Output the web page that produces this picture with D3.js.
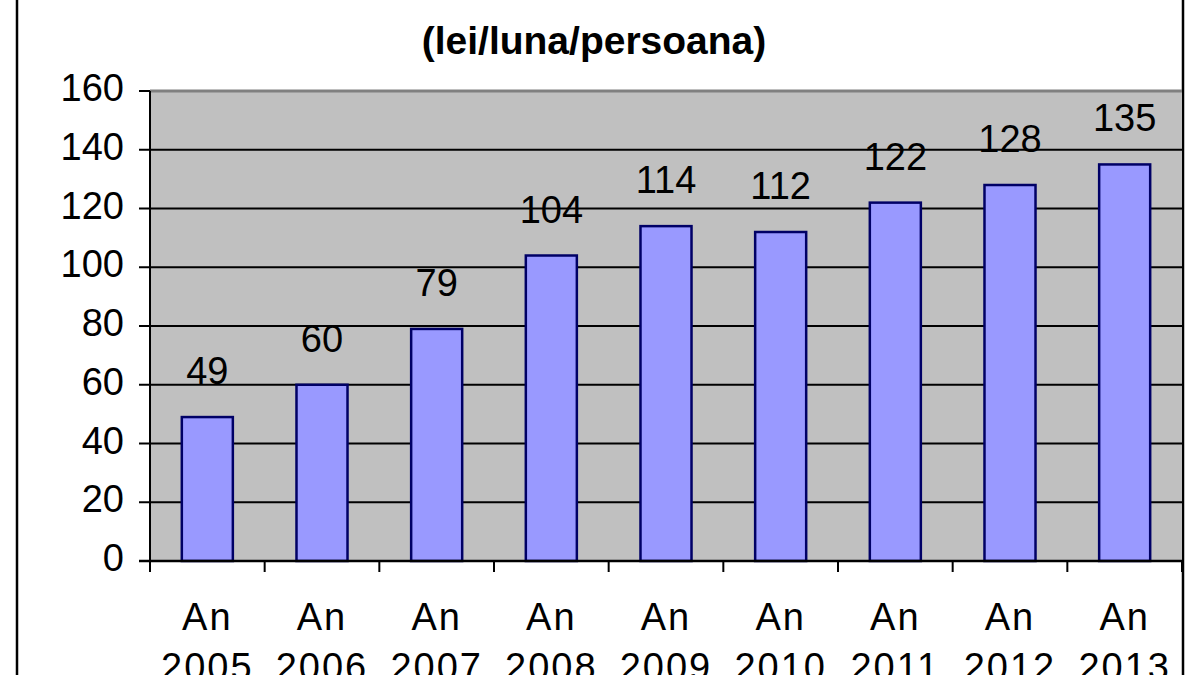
<!DOCTYPE html>
<html>
<head>
<meta charset="utf-8">
<script src="https://cdn.jsdelivr.net/npm/d3@7"></script>
<style>
  body { margin: 0; background: #fff; }
  svg { display: block; font-family: "Liberation Sans", Arial, sans-serif; }
</style>
</head>
<body>
<svg id="chart" width="1200" height="675"></svg>
<script>
// date
var ani = ["2005", "2006", "2007", "2008", "2009", "2010", "2011", "2012", "2013"];
var valori = [49, 60, 79, 104, 114, 112, 122, 128, 135];
var yTicks = [0, 20, 40, 60, 80, 100, 120, 140, 160];
var titlu = "(lei/luna/persoana)";

var W = 1200, H = 675;
var plot = { left: 150, right: 1182, top: 91, bottom: 561 };

var svg = d3.select("#chart");

// chenarul exterior
svg.append("line").attr("x1", 17).attr("x2", 17).attr("y1", 0).attr("y2", H)
  .attr("stroke", "#000").attr("stroke-width", 2.5);
svg.append("line").attr("x1", 1183).attr("x2", 1183).attr("y1", 0).attr("y2", H)
  .attr("stroke", "#000").attr("stroke-width", 2.5);

// titlu
svg.append("text")
  .attr("x", 594).attr("y", 54)
  .attr("text-anchor", "middle")
  .attr("font-weight", "bold")
  .attr("font-size", 39)
  .text(titlu);

var x = d3.scaleBand()
  .domain(ani)
  .range([plot.left, plot.right])
  .paddingInner(0.555)
  .paddingOuter(0.2775);

var y = d3.scaleLinear()
  .domain([0, 160])
  .range([plot.bottom, plot.top]);

// fundal gri
svg.append("rect")
  .attr("x", plot.left).attr("y", plot.top)
  .attr("width", plot.right - plot.left).attr("height", plot.bottom - plot.top)
  .attr("fill", "#c0c0c0");

// linii de grila
svg.append("g")
  .selectAll("line")
  .data(yTicks.filter(d => d > 0 && d < 160))
  .join("line")
  .attr("x1", plot.left).attr("x2", plot.right)
  .attr("y1", d => y(d)).attr("y2", d => y(d))
  .attr("stroke", "#000").attr("stroke-width", 2);

// marginea de sus a zonei
svg.append("line")
  .attr("x1", plot.left).attr("x2", plot.right)
  .attr("y1", plot.top).attr("y2", plot.top)
  .attr("stroke", "#808080").attr("stroke-width", 3);

// bare
svg.append("g")
  .selectAll("rect")
  .data(valori)
  .join("rect")
  .attr("x", (d, i) => x(ani[i]))
  .attr("y", d => y(d))
  .attr("width", x.bandwidth())
  .attr("height", d => y(0) - y(d))
  .attr("fill", "#9999ff")
  .attr("stroke", "#000066")
  .attr("stroke-width", 2.5);

// etichete valori
svg.append("g")
  .attr("font-size", 38)
  .attr("text-anchor", "middle")
  .selectAll("text")
  .data(valori)
  .join("text")
  .attr("x", (d, i) => x(ani[i]) + x.bandwidth() / 2)
  .attr("y", d => y(d) - 33)
  .text(d => d);

// axa Y
var yAxis = svg.append("g");
yAxis.append("line")
  .attr("x1", plot.left).attr("x2", plot.left)
  .attr("y1", plot.top).attr("y2", plot.bottom)
  .attr("stroke", "#000").attr("stroke-width", 2);
yAxis.selectAll("line.tick")
  .data(yTicks)
  .join("line")
  .attr("class", "tick")
  .attr("x1", plot.left - 11).attr("x2", plot.left)
  .attr("y1", d => y(d)).attr("y2", d => y(d))
  .attr("stroke", "#000").attr("stroke-width", 2);
yAxis.selectAll("text")
  .data(yTicks)
  .join("text")
  .attr("x", 124)
  .attr("y", d => y(d) + 10)
  .attr("text-anchor", "end")
  .attr("font-size", 38)
  .text(d => d);

// axa X
var xAxis = svg.append("g");
xAxis.append("line")
  .attr("x1", plot.left - 11).attr("x2", plot.right)
  .attr("y1", plot.bottom).attr("y2", plot.bottom)
  .attr("stroke", "#000").attr("stroke-width", 2.5);
xAxis.selectAll("line.tick")
  .data(d3.range(ani.length + 1))
  .join("line")
  .attr("class", "tick")
  .attr("x1", i => plot.left + i * x.step()).attr("x2", i => plot.left + i * x.step())
  .attr("y1", plot.bottom).attr("y2", plot.bottom + 11)
  .attr("stroke", "#000").attr("stroke-width", 2);
var lbl = xAxis.selectAll("text")
  .data(ani)
  .join("text")
  .attr("text-anchor", "middle")
  .attr("font-size", 38)
  .attr("letter-spacing", 2);
lbl.append("tspan")
  .attr("x", d => x(d) + x.bandwidth() / 2)
  .attr("y", 630)
  .text("An");
lbl.append("tspan")
  .attr("x", d => x(d) + x.bandwidth() / 2)
  .attr("y", 680)
  .text(d => d);
</script>
</body>
</html>
